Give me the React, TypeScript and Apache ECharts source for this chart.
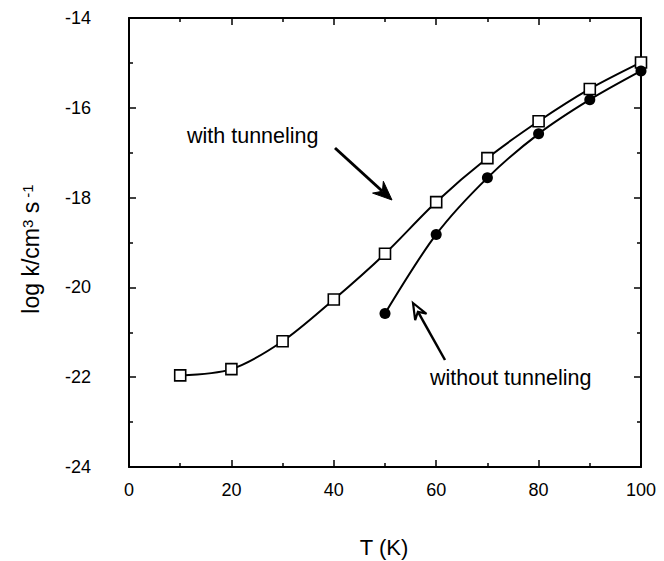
import React, { useEffect, useRef } from "react";
import * as echarts from "echarts";

const temperatures: number[] = [10, 20, 30, 40, 50, 60, 70, 80, 90, 100];
const withTunneling: number[] = [-21.96, -21.82, -21.2, -20.27, -19.25, -18.1, -17.12, -16.3, -15.58, -14.99];
const temperaturesNoTunnel: number[] = [50, 60, 70, 80, 90, 100];
const withoutTunneling: number[] = [-20.58, -18.82, -17.56, -16.58, -15.82, -15.18];

const FONT = "Liberation Sans, Arial, Helvetica, sans-serif";

function arrowHead(tip: [number, number], from: [number, number], len: number, half: number, notch: number) {
  const dx = tip[0] - from[0];
  const dy = tip[1] - from[1];
  const L = Math.hypot(dx, dy);
  const ux = dx / L, uy = dy / L;
  const px = -uy, py = ux;
  const bx = tip[0] - len * ux, by = tip[1] - len * uy;
  const nx = tip[0] - notch * ux, ny = tip[1] - notch * uy;
  return {
    points: [
      [tip[0], tip[1]],
      [bx + half * px, by + half * py],
      [nx, ny],
      [bx - half * px, by - half * py],
    ],
    notch: [nx, ny],
  };
}

const axisCommon = {
  axisLine: { show: true, onZero: false, lineStyle: { color: "#000", width: 2 } },
  axisTick: { show: true, inside: true, length: 7, lineStyle: { color: "#000", width: 1.5 } },
  minorTick: { show: true, splitNumber: 2, length: 4, lineStyle: { color: "#000", width: 1.5 } },
  splitLine: { show: false },
  minorSplitLine: { show: false },
};

export default function App() {
  const ref = useRef<HTMLDivElement>(null);
  useEffect(() => {
    document.body.style.margin = "0";
    if (!ref.current) return;
    const chart = echarts.init(ref.current, undefined, { renderer: "svg" });

    const a1 = arrowHead([392, 200], [335, 148], 19, 8, 13);
    const a2 = arrowHead([413, 303], [445, 360], 16, 6.5, 10);

    chart.setOption({
      animation: false,
      backgroundColor: "#fff",
      grid: { left: 129, right: 23, top: 18, bottom: 94 },
      xAxis: [
        {
          type: "value", min: 0, max: 100, interval: 20, position: "bottom",
          ...axisCommon,
          axisLabel: { color: "#000", fontSize: 18, margin: 14, fontFamily: FONT },
        },
        {
          type: "value", min: 0, max: 100, interval: 20, position: "top",
          ...axisCommon,
          axisLabel: { show: false },
        },
      ],
      yAxis: [
        {
          type: "value", min: -24, max: -14, interval: 2, position: "left",
          ...axisCommon,
          axisLabel: { color: "#000", fontSize: 18, margin: 38, fontFamily: FONT },
        },
        {
          type: "value", min: -24, max: -14, interval: 2, position: "right",
          ...axisCommon,
          axisLabel: { show: false },
        },
      ],
      series: [
        {
          type: "line",
          name: "with tunneling",
          xAxisIndex: 0, yAxisIndex: 0,
          data: temperatures.map((t, i) => [t, withTunneling[i]]),
          smooth: 0.3,
          symbol: "rect",
          symbolSize: 11,
          lineStyle: { color: "#000", width: 2 },
          itemStyle: { color: "#fff", borderColor: "#000", borderWidth: 1.6 },
          clip: false,
          z: 3,
        },
        {
          type: "line",
          name: "without tunneling",
          xAxisIndex: 0, yAxisIndex: 0,
          data: temperaturesNoTunnel.map((t, i) => [t, withoutTunneling[i]]),
          smooth: 0.3,
          symbol: "circle",
          symbolSize: 11,
          showAllSymbol: true,
          lineStyle: { color: "#000", width: 2 },
          itemStyle: { color: "#000", borderColor: "#000", borderWidth: 0 },
          clip: false,
          z: 4,
        },
      ],
      graphic: [
        {
          type: "text", left: 187, top: 125,
          style: { text: "with tunneling", fontSize: 21.5, fontFamily: FONT, fill: "#000" },
        },
        {
          type: "text", left: 430, top: 367,
          style: { text: "without tunneling", fontSize: 21.5, fontFamily: FONT, fill: "#000" },
        },
        {
          type: "line",
          shape: { x1: 335, y1: 148, x2: a1.notch[0], y2: a1.notch[1] },
          style: { stroke: "#000", lineWidth: 3 },
        },
        {
          type: "polygon",
          shape: { points: a1.points },
          style: { fill: "#000", stroke: "#000", lineWidth: 1 },
        },
        {
          type: "line",
          shape: { x1: 445, y1: 360, x2: a2.notch[0], y2: a2.notch[1] },
          style: { stroke: "#000", lineWidth: 2.5 },
        },
        {
          type: "polygon",
          shape: { points: a2.points },
          style: { fill: "#fff", stroke: "#000", lineWidth: 2.2 },
        },
        {
          type: "text", x: 384, y: 547,
          style: { text: "T (K)", fontSize: 22, fontFamily: FONT, fill: "#000", align: "center", verticalAlign: "middle" },
        },
        {
          type: "text", x: 31, y: 249, rotation: Math.PI / 2,
          style: {
            text: "{a|log k/cm}{s|3}{a| s}{s| -1}",
            align: "center",
            verticalAlign: "middle",
            fill: "#000",
            rich: {
              a: { fontSize: 23, fontFamily: FONT, lineHeight: 23, padding: [14, 0, 0, 0], verticalAlign: "bottom", fill: "#000" },
              s: { fontSize: 15, fontFamily: FONT, lineHeight: 15, verticalAlign: "top", fill: "#000" },
            },
          },
        },
      ],
    });
    return () => chart.dispose();
  }, []);
  return <div ref={ref} style={{ width: 664, height: 561 }} />;
}
